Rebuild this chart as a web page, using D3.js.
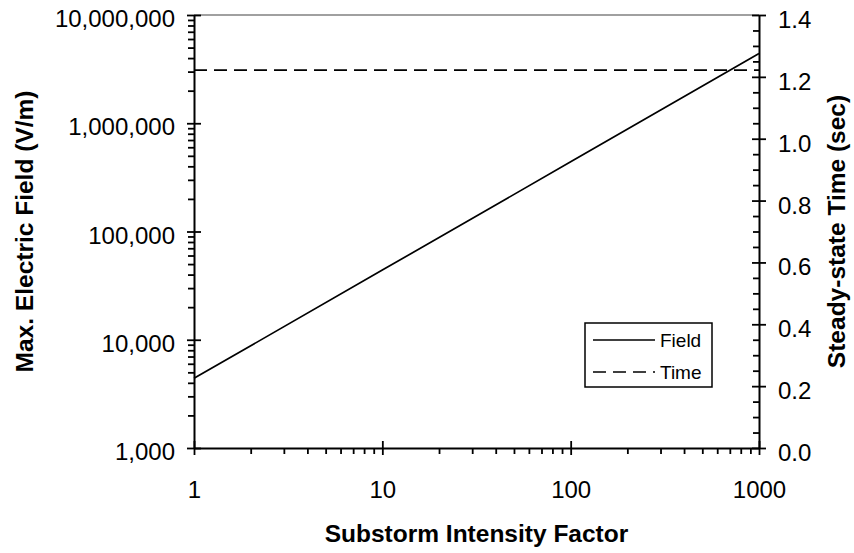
<!DOCTYPE html>
<html>
<head>
<meta charset="utf-8">
<script src="https://cdn.jsdelivr.net/npm/d3@7"></script>
<style>
body { margin: 0; background: #fff; }
text { font-family: Arial, "Liberation Sans", sans-serif; fill: #000; }
</style>
</head>
<body>
<svg id="chart" width="854" height="553"></svg>
<script>
// data
var intensity = [1, 10, 100, 1000];
var maxField = [4400, 44000, 440000, 4400000];
var steadyTime = [1.222, 1.222, 1.222, 1.222];

var factorTicks = [1, 10, 100, 1000];
var fieldTicks = [1000, 10000, 100000, 1000000, 10000000];
var timeTicks = [0, 0.2, 0.4, 0.6, 0.8, 1.0, 1.2, 1.4];

var LEFT = 194, RIGHT = 759, TOP = 15, BOTTOM = 448;
var TICK_FONT = "24px", TITLE_FONT = "24.5px";

var svg = d3.select("#chart");

var x = d3.scaleLog().domain([1, 1000]).range([LEFT, RIGHT]);
var yField = d3.scaleLog().domain([1000, 10000000]).range([BOTTOM, TOP]);
var yTime = d3.scaleLinear().domain([0, 1.4]).range([BOTTOM, TOP]);

// minor tick positions
var xMinor = x.ticks().filter(function(v) { return factorTicks.indexOf(v) < 0; });
var yMinor = yField.ticks().filter(function(v) { return fieldTicks.indexOf(v) < 0; });
var tMinor = d3.range(0, 1.4001, 0.05).filter(function(v) {
    return Math.abs(v * 5 - Math.round(v * 5)) > 1e-6;
});

// top border
svg.append("line")
    .attr("x1", LEFT).attr("x2", RIGHT)
    .attr("y1", TOP).attr("y2", TOP)
    .attr("stroke", "#808080").attr("stroke-width", 1.5);

function styleAxis(g) {
    g.select(".domain").attr("stroke", "#000").attr("stroke-width", 2);
    g.selectAll(".tick line").attr("stroke", "#000").attr("stroke-width", 1.8);
}

// left axis
var gLeftMinor = svg.append("g").attr("transform", "translate(" + LEFT + ",0)")
    .call(d3.axisLeft(yField).tickValues(yMinor).tickFormat("").tickSize(6).tickSizeOuter(0));
gLeftMinor.select(".domain").remove();
gLeftMinor.selectAll(".tick line").attr("stroke", "#000").attr("stroke-width", 1.8);

var gLeft = svg.append("g").attr("transform", "translate(" + LEFT + ",0)")
    .call(d3.axisLeft(yField).tickValues(fieldTicks).tickFormat(d3.format(",")).tickSizeOuter(0));
styleAxis(gLeft);
gLeft.selectAll(".tick line").attr("x1", 7).attr("x2", -7);
gLeft.selectAll(".tick text").attr("x", -19).attr("dy", "0.48em")
    .attr("font-size", TICK_FONT).attr("font-family", null);

// right axis
var gRightMinor = svg.append("g").attr("transform", "translate(" + RIGHT + ",0)")
    .call(d3.axisLeft(yTime).tickValues(tMinor).tickFormat("").tickSize(6).tickSizeOuter(0));
gRightMinor.select(".domain").remove();
gRightMinor.selectAll(".tick line").attr("stroke", "#000").attr("stroke-width", 1.8);

var gRight = svg.append("g").attr("transform", "translate(" + RIGHT + ",0)")
    .call(d3.axisRight(yTime).tickValues(timeTicks).tickFormat(d3.format(".1f")).tickSizeOuter(0));
styleAxis(gRight);
gRight.selectAll(".tick line").attr("x1", -7).attr("x2", 7);
gRight.selectAll(".tick text").attr("x", 19).attr("dy", "0.52em")
    .attr("font-size", TICK_FONT).attr("font-family", null);

// bottom axis
var gBottomMinor = svg.append("g").attr("transform", "translate(0," + BOTTOM + ")")
    .call(d3.axisBottom(x).tickValues(xMinor).tickFormat("").tickSize(6).tickSizeOuter(0));
gBottomMinor.select(".domain").remove();
gBottomMinor.selectAll(".tick line").attr("stroke", "#000").attr("stroke-width", 1.8);

var gBottom = svg.append("g").attr("transform", "translate(0," + BOTTOM + ")")
    .call(d3.axisBottom(x).tickValues(factorTicks).tickFormat(d3.format("d")).tickSizeOuter(0));
styleAxis(gBottom);
gBottom.selectAll(".tick line").attr("y1", -7).attr("y2", 7);
gBottom.selectAll(".tick text").attr("y", 42).attr("dy", "0.35em")
    .attr("font-size", TICK_FONT).attr("font-family", null);

svg.selectAll("g").attr("font-size", null);

// series
var fieldLine = d3.line()
    .x(function(d) { return x(d[0]); })
    .y(function(d) { return yField(d[1]); });
var timeLine = d3.line()
    .x(function(d) { return x(d[0]); })
    .y(function(d) { return yTime(d[1]); });

svg.append("path")
    .datum(d3.zip(intensity, maxField))
    .attr("d", fieldLine)
    .attr("fill", "none").attr("stroke", "#000").attr("stroke-width", 1.7);

svg.append("path")
    .datum(d3.zip(intensity, steadyTime))
    .attr("d", timeLine)
    .attr("fill", "none").attr("stroke", "#000").attr("stroke-width", 1.7)
    .attr("stroke-dasharray", "13,7");

// axis titles
svg.append("text")
    .attr("x", (LEFT + RIGHT) / 2).attr("y", 542)
    .attr("text-anchor", "middle")
    .attr("font-size", TITLE_FONT).attr("font-weight", "bold")
    .text("Substorm Intensity Factor");

svg.append("text")
    .attr("transform", "translate(33," + (TOP + BOTTOM) / 2 + ") rotate(-90)")
    .attr("text-anchor", "middle")
    .attr("font-size", TITLE_FONT).attr("font-weight", "bold")
    .text("Max. Electric Field (V/m)");

svg.append("text")
    .attr("transform", "translate(845," + (TOP + BOTTOM) / 2 + ") rotate(-90)")
    .attr("text-anchor", "middle")
    .attr("font-size", TITLE_FONT).attr("font-weight", "bold")
    .text("Steady-state Time (sec)");

// legend
var legend = svg.append("g");
legend.append("rect")
    .attr("x", 585).attr("y", 323).attr("width", 127).attr("height", 64)
    .attr("fill", "#fff").attr("stroke", "#000").attr("stroke-width", 1.5);

var legendItems = [
    { label: "Field", dash: null, y: 340 },
    { label: "Time", dash: "13,7", y: 372 }
];
legend.selectAll("line.key").data(legendItems).enter().append("line")
    .attr("class", "key")
    .attr("x1", 593).attr("x2", 655)
    .attr("y1", function(d) { return d.y; }).attr("y2", function(d) { return d.y; })
    .attr("stroke", "#000").attr("stroke-width", 1.7)
    .attr("stroke-dasharray", function(d) { return d.dash; });
legend.selectAll("text").data(legendItems).enter().append("text")
    .attr("x", 660)
    .attr("y", function(d) { return d.y; })
    .attr("dy", "0.35em")
    .attr("font-size", "19px")
    .text(function(d) { return d.label; });
</script>
</body>
</html>
